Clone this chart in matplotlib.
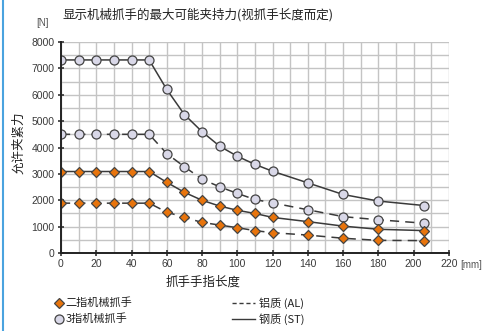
import numpy as np
import matplotlib.pyplot as plt
from matplotlib.lines import Line2D

plt.rcParams['font.family'] = ['Noto Sans CJK SC', 'DejaVu Sans']

# finger length [mm]
length = [0, 10, 20, 30, 40, 50, 60, 70, 80, 90, 100, 110, 120, 140, 160, 180, 206]

# max allowed clamping force [N]
three_st = [7320, 7320, 7320, 7320, 7320, 7320, 6200, 5250, 4600, 4050, 3670, 3360, 3100, 2660, 2220, 1970, 1800]
three_al = [4500, 4500, 4500, 4500, 4500, 4500, 3770, 3270, 2800, 2510, 2260, 2030, 1900, 1640, 1380, 1260, 1130]
two_st = [3090, 3090, 3090, 3090, 3090, 3090, 2680, 2300, 2000, 1780, 1620, 1500, 1350, 1190, 1020, 900, 850]
two_al = [1890, 1890, 1890, 1890, 1890, 1890, 1550, 1350, 1160, 1060, 960, 850, 770, 680, 560, 480, 470]

x_ticks = np.arange(0, 221, 20)
y_ticks = np.arange(0, 8001, 1000)

orange = '#E8740C'
lilac = '#D9D8E8'
line_c = '#3a3a3a'
dash = (0, (6, 4))

fig = plt.figure(figsize=(4.86, 3.31), dpi=100)
ax = fig.add_axes([0.1255, 0.2356, 0.798, 0.6375])

ax.set_xlim(0, 220)
ax.set_ylim(0, 8000)
ax.set_xticks(np.arange(0, 221, 10), minor=True)
ax.set_yticks(np.arange(0, 8001, 500), minor=True)
ax.grid(True, which='both', color='#c4c4c4', lw=1.0)
ax.set_axisbelow(True)

kw = dict(color=line_c, lw=1.1, markersize=6.5, markeredgecolor='#444444', markeredgewidth=0.9)
ax.plot(length, three_st, '-', marker='o', markerfacecolor=lilac, **kw)
ax.plot(length, three_al, linestyle=dash, marker='o', markerfacecolor=lilac, **kw)
ax.plot(length, two_st, '-', marker='D', markerfacecolor=orange, **dict(kw, markersize=5.5))
ax.plot(length, two_al, linestyle=dash, marker='D', markerfacecolor=orange, **dict(kw, markersize=5.5))

ax.set_xticks(x_ticks)
ax.set_yticks(y_ticks)
ax.set_xticklabels([str(v) for v in x_ticks], family='Liberation Sans')
ax.set_yticklabels([str(v) for v in y_ticks], family='Liberation Sans')
ax.tick_params(which='major', direction='inout', length=5, width=1.2, labelsize=7.5, colors='#333333', labelcolor='#3a3a3a', pad=2)
ax.tick_params(which='minor', length=0)
for s in ['top', 'right']:
    ax.spines[s].set_visible(False)
for s in ['left', 'bottom']:
    ax.spines[s].set_color('#222222')
    ax.spines[s].set_linewidth(1.4)

fig.text(0.128, 0.955, '显示机械抓手的最大可能夹持力(视抓手长度而定)', fontsize=9, color='#222222', va='center')
fig.text(0.074, 0.932, '[N]', fontsize=7, color='#555555', va='center', family='Liberation Sans')
fig.text(0.947, 0.198, '[mm]', fontsize=7, color='#555555', va='center', family='Liberation Sans')
fig.text(0.038, 0.57, '允许夹紧力', fontsize=9, rotation=90, color='#222222', ha='center', va='center')
fig.text(0.418, 0.148, '抓手手指长度', fontsize=9, color='#222222', ha='center', va='center')

# legend
fig.add_artist(Line2D([0.122], [0.085], transform=fig.transFigure, marker='D', markersize=5.5,
                      markerfacecolor=orange, markeredgecolor='#444444', markeredgewidth=0.9))
fig.text(0.135, 0.085, '二指机械抓手', fontsize=8, color='#222222', va='center')
fig.add_artist(Line2D([0.122], [0.036], transform=fig.transFigure, marker='o', markersize=6.5,
                      markerfacecolor=lilac, markeredgecolor='#444444', markeredgewidth=0.9))
fig.text(0.135, 0.036, '3指机械抓手', fontsize=8, color='#222222', va='center')
fig.add_artist(Line2D([0.478, 0.525], [0.085, 0.085], transform=fig.transFigure, color=line_c,
                      lw=1.0, linestyle=(0, (3, 2))))
fig.text(0.532, 0.085, '铝质 (AL)', fontsize=8, color='#222222', va='center')
fig.add_artist(Line2D([0.478, 0.525], [0.036, 0.036], transform=fig.transFigure, color=line_c, lw=1.0))
fig.text(0.532, 0.036, '钢质 (ST)', fontsize=8, color='#222222', va='center')

# blue frame line on the left edge
fig.add_artist(Line2D([0.007, 0.007], [0, 1], transform=fig.transFigure, color='#4aa3df', lw=1.5))

fig.savefig('out.png', dpi=100)
